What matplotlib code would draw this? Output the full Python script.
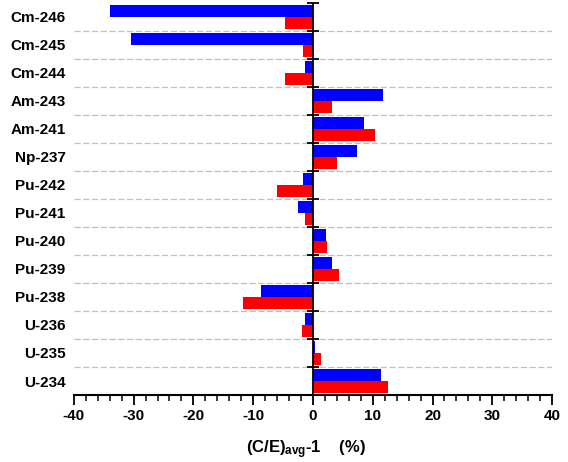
import numpy as np
import matplotlib
matplotlib.use("Agg")
import matplotlib.pyplot as plt
from matplotlib.ticker import MultipleLocator

plt.rcParams['font.family'] = ['Liberation Sans', 'DejaVu Sans']
plt.rcParams['font.weight'] = 'bold'
plt.rcParams['mathtext.default'] = 'regular'

isotopes = ["Cm-246", "Cm-245", "Cm-244", "Am-243", "Am-241", "Np-237", "Pu-242",
            "Pu-241", "Pu-240", "Pu-239", "Pu-238", "U-236", "U-235", "U-234"]
blue_vals = [-33.9, -30.4, -1.3, 11.7, 8.5, 7.3, -1.6, -2.5, 2.1, 3.1, -8.7, -1.3, 0.35, 11.3]
red_vals = [-4.6, -1.6, -4.6, 3.1, 10.3, 4.0, -6.0, -1.3, 2.4, 4.3, -11.7, -1.9, 1.4, 12.5]
xticks = [-40, -30, -20, -10, 0, 10, 20, 30, 40]

fig = plt.figure(figsize=(5.68, 4.62), dpi=100)
ax = fig.add_axes([0.130, 0.145, 0.842, 0.849])

n = len(isotopes)
y = np.arange(n)
h = 0.43
ax.barh(y - h / 2, blue_vals, height=h, color='#0000ff', zorder=3)
ax.barh(y + h / 2, red_vals, height=h, color='#ff0000', zorder=3)

ax.set_ylim(n - 0.5, -0.5)
ax.set_xlim(-40, 40)

# category boundary gridlines
bounds = np.arange(n + 1) - 0.5
ax.hlines(bounds[1:-1], -40, 40, colors='#c0c0c0', linestyles=(0, (5, 2)), linewidth=0.9, zorder=1)

# central zero line with boundary ticks
ax.axvline(0, color='black', linewidth=1.3, zorder=4)
ax.plot(np.zeros_like(bounds), bounds, linestyle='none', marker='_', markersize=8,
        markeredgewidth=1.3, color='black', zorder=4, clip_on=False)

for s in ['left', 'right', 'top']:
    ax.spines[s].set_visible(False)
ax.spines['bottom'].set_linewidth(1.5)

ax.set_yticks(y)
ax.set_yticklabels(isotopes, fontsize=11, fontweight='bold')
ax.tick_params(axis='y', length=0, pad=6)

ax.set_xticks(xticks)
ax.set_xticklabels([str(t) for t in xticks], fontsize=11, fontweight='bold')
ax.xaxis.set_minor_locator(MultipleLocator(2))
ax.tick_params(axis='x', which='major', direction='out', length=7, width=1.3, pad=3)
ax.tick_params(axis='x', which='minor', direction='out', length=4, width=1.1)

ax.set_xlabel(r"(C/E)$_{avg}$-1    (%)", fontsize=12, fontweight='bold')
ax.xaxis.set_label_coords(0.485, -0.11)

fig.savefig("out.png", dpi=100)
